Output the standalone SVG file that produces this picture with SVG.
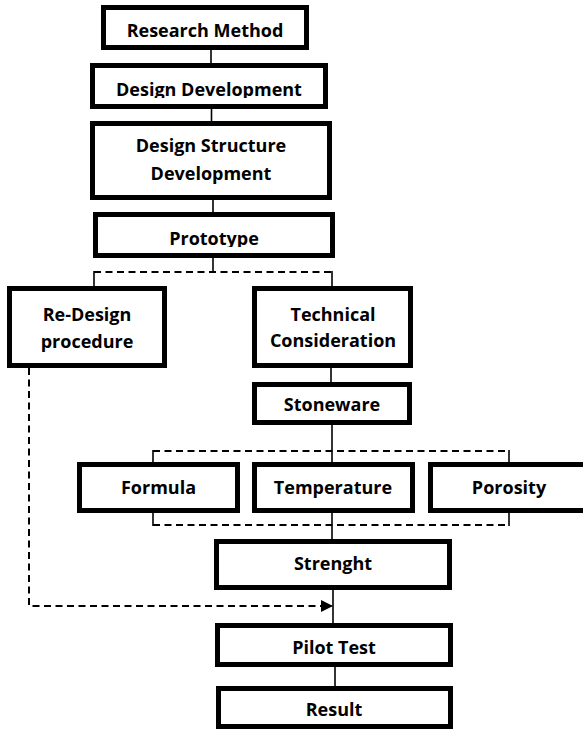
<svg xmlns="http://www.w3.org/2000/svg" width="583" height="729" viewBox="0 0 583 729">
  <style>
    .box { fill: #ffffff; stroke: #000000; stroke-width: 5; }
    .lbl { font-family: "Open Sans", "Liberation Sans", sans-serif; font-weight: 700; font-size: 18px; fill: #000000; text-anchor: middle; }
    .link { fill: none; stroke: #000000; stroke-width: 1.6; }
    .dash { fill: none; stroke: #000000; stroke-width: 2; stroke-dasharray: 7 4.5; }
  </style>
  <defs>
    <marker id="arrow" viewBox="0 0 12 12" refX="11" refY="6" markerWidth="12" markerHeight="12" markerUnits="userSpaceOnUse" orient="auto">
      <path d="M0,0 L12,6 L0,12 Z" fill="#000000"/>
    </marker>
    <!-- Labels clipped at the baseline (descenders hidden) -->
    <clipPath id="clipDD"><rect x="92" y="60" width="236" height="38"/></clipPath>
    <clipPath id="clipProto"><rect x="95" y="210" width="240" height="37"/></clipPath>
  </defs>
  <rect width="583" height="729" fill="#ffffff"/>

  <g id="connectors">
    <line class="link" x1="211" y1="50" x2="211" y2="63"/>
    <line class="link" x1="211.5" y1="109" x2="211.5" y2="121"/>
    <line class="link" x1="213" y1="200" x2="213" y2="212"/>
    <line class="link" x1="213" y1="258" x2="213" y2="272"/>
    <line class="dash" x1="94" y1="272" x2="332" y2="272"/>
    <line class="link" x1="94" y1="271" x2="94" y2="286"/>
    <line class="link" x1="332" y1="271" x2="332" y2="286"/>
    <line class="link" x1="331" y1="368" x2="331" y2="382"/>
    <line class="link" x1="332" y1="425" x2="332" y2="462"/>
    <line class="dash" x1="153" y1="451" x2="509" y2="451"/>
    <line class="link" x1="153" y1="450" x2="153" y2="462"/>
    <line class="link" x1="509" y1="450" x2="509" y2="462"/>
    <line class="dash" x1="153" y1="525" x2="509" y2="525"/>
    <line class="link" x1="153" y1="513" x2="153" y2="526"/>
    <line class="link" x1="509" y1="513" x2="509" y2="526"/>
    <line class="link" x1="332" y1="513" x2="332" y2="539"/>
    <line class="link" x1="333" y1="590" x2="333" y2="623"/>
    <line class="link" x1="335" y1="667" x2="335" y2="686"/>
    <path class="dash" d="M29,368 V606 H332" marker-end="url(#arrow)"/>
  </g>

  <g id="research-method">
    <rect class="box" x="103.5" y="7.5" width="203" height="40"/>
    <text class="lbl" x="205" y="37">Research Method</text>
  </g>
  <g id="design-development">
    <rect class="box" x="92.5" y="65.5" width="233" height="41"/>
    <text class="lbl" x="209" y="96" clip-path="url(#clipDD)">Design Development</text>
  </g>
  <g id="design-structure-development">
    <rect class="box" x="92.5" y="123.5" width="237" height="74"/>
    <text class="lbl" x="211" y="152">Design Structure</text>
    <text class="lbl" x="211" y="180">Development</text>
  </g>
  <g id="prototype">
    <rect class="box" x="95.5" y="214.5" width="237" height="41"/>
    <text class="lbl" x="214" y="245" clip-path="url(#clipProto)">Prototype</text>
  </g>
  <g id="re-design-procedure">
    <rect class="box" x="9.5" y="288.5" width="155" height="77"/>
    <text class="lbl" x="87" y="321">Re-Design</text>
    <text class="lbl" x="87" y="348">procedure</text>
  </g>
  <g id="technical-consideration">
    <rect class="box" x="254.5" y="288.5" width="156" height="77"/>
    <text class="lbl" x="333" y="321">Technical</text>
    <text class="lbl" x="333" y="347">Consideration</text>
  </g>
  <g id="stoneware">
    <rect class="box" x="254.5" y="384.5" width="155" height="38"/>
    <text class="lbl" x="332" y="411">Stoneware</text>
  </g>
  <g id="formula">
    <rect class="box" x="79.5" y="464.5" width="158" height="46"/>
    <text class="lbl" x="158.5" y="494">Formula</text>
  </g>
  <g id="temperature">
    <rect class="box" x="254.5" y="464.5" width="158" height="46"/>
    <text class="lbl" x="333" y="494">Temperature</text>
  </g>
  <g id="porosity">
    <rect class="box" x="430.5" y="464.5" width="159" height="46"/>
    <text class="lbl" x="509" y="494">Porosity</text>
  </g>
  <g id="strenght">
    <rect class="box" x="216.5" y="541.5" width="233" height="46"/>
    <text class="lbl" x="333" y="570">Strenght</text>
  </g>
  <g id="pilot-test">
    <rect class="box" x="217.5" y="625.5" width="233" height="39"/>
    <text class="lbl" x="334" y="654">Pilot Test</text>
  </g>
  <g id="result">
    <rect class="box" x="218.5" y="688.5" width="232" height="38"/>
    <text class="lbl" x="334" y="716">Result</text>
  </g>
</svg>
